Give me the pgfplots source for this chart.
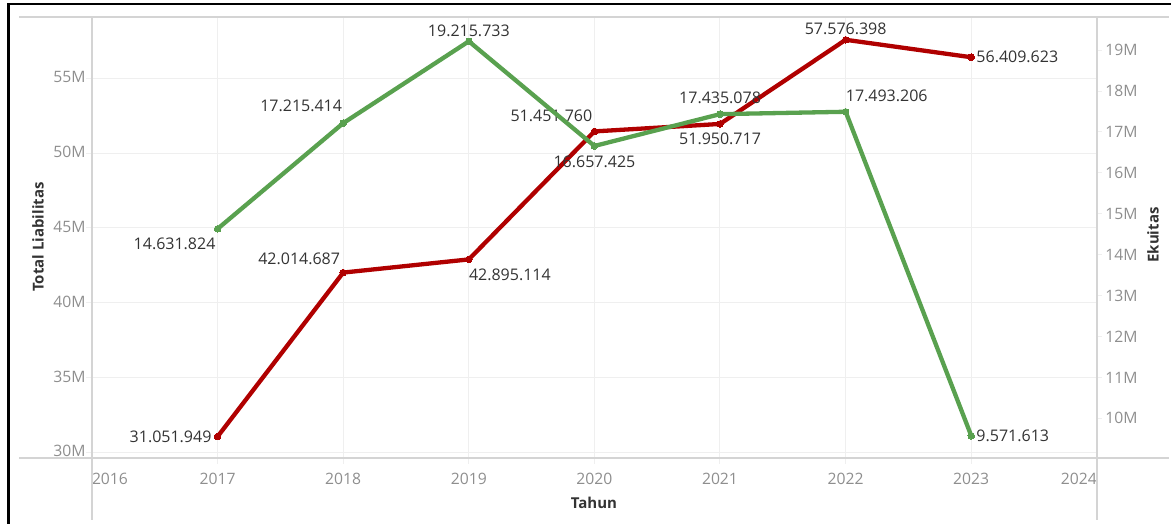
\documentclass[border=0pt]{standalone}
\usepackage{fontspec}
\setmainfont{Open Sans}
\usepackage{pgfplots}
\pgfplotsset{compat=1.18}
\definecolor{liab}{HTML}{B00000}
\definecolor{eku}{HTML}{59A14F}
\definecolor{gridc}{HTML}{EFEFEF}
\definecolor{framec}{HTML}{D4D4D4}
\definecolor{tickc}{HTML}{8E8E8E}
\definecolor{labc}{HTML}{333333}

% value label at a data point: x, y, text, anchor, xshift, yshift
\newcommand\lab[6]{%
  \addplot[draw=none, no marks, nodes near coords, point meta=explicit symbolic,
    every node near coord/.append style={anchor=#4, xshift=#5pt, yshift=#6pt,
      inner sep=0pt, font=\fontsize{16}{19}\selectfont, text=labc}]
    coordinates {(#1,#2) [#3]};}

\pgfplotsset{
  base/.style={
    at={(92pt,66pt)}, anchor=south west,
    scale only axis, width=1005pt, height=441pt,
    xmin=2016, xmax=2024,
    axis line style={draw=none},
    tick align=outside,
    tick style={gridc, line width=1pt},
    ticklabel style={font=\fontsize{15.7}{18}\selectfont, text=tickc},
    clip=false,
  },
}

\begin{document}
\begin{tikzpicture}[x=1pt,y=1pt]
\begin{axis}[base,
  ymin=29620000, ymax=59100000,
  xtick={2016,...,2024},
  xticklabels={\rlap{2016},2017,2018,2019,2020,2021,2022,2023,\llap{2024}},
  xticklabel style={yshift=-6pt},
  ytick={30000000,35000000,40000000,45000000,50000000,55000000},
  yticklabels={30M,35M,40M,45M,50M,55M},
  yticklabel style={xshift=3pt, yshift=1pt},
  scaled y ticks=false,
  xmajorgrids, ymajorgrids, major grid style={gridc, line width=1pt},
  xtick pos=bottom, ytick pos=left, major tick length=6pt,
]
\addplot[liab, line width=4.3pt, line join=round, mark=*, mark size=3.3pt,
  mark options={fill=liab, draw=liab, line width=0pt}]
  coordinates {(2017,31051949) (2018,42014687) (2019,42895114) (2020,51451760)
               (2021,51950717) (2022,57576398) (2023,56409623)};
\lab{2017}{31051949}{31.051.949}{east}{-6}{0}
\lab{2018}{42014687}{42.014.687}{south east}{-3}{8}
\lab{2019}{42895114}{42.895.114}{north west}{0}{-9}
\lab{2020}{51451760}{51.451.760}{south east}{-2}{9}
\lab{2021}{51950717}{51.950.717}{north}{0}{-9}
\lab{2022}{57576398}{57.576.398}{south}{0}{5}
\lab{2023}{56409623}{56.409.623}{west}{5}{0}
\end{axis}
\begin{axis}[base,
  ymin=9030000, ymax=19810000,
  axis x line=none, axis y line*=right,
  ytick={10000000,11000000,12000000,13000000,14000000,15000000,16000000,17000000,18000000,19000000},
  yticklabels={10M,11M,12M,13M,14M,15M,16M,17M,18M,19M},
  scaled y ticks=false,
  major tick length=5pt,
]
\addplot[eku, line width=4.3pt, line join=round, mark=*, mark size=3.3pt,
  mark options={fill=eku, draw=eku, line width=0pt}]
  coordinates {(2017,14631824) (2018,17215414) (2019,19215733) (2020,16657425)
               (2021,17435078) (2022,17493206) (2023,9571613)};
\lab{2017}{14631824}{14.631.824}{north east}{-2}{-9}
\lab{2018}{17215414}{17.215.414}{south east}{-1}{11}
\lab{2019}{19215733}{19.215.733}{south}{0}{4}
\lab{2020}{16657425}{16.657.425}{north}{0}{-10}
\lab{2021}{17435078}{17.435.078}{south}{0}{10}
\lab{2022}{17493206}{17.493.206}{south west}{0}{10}
\lab{2023}{9571613}{9.571.613}{west}{5}{0}
\end{axis}
% frame lines
\draw[framec, line width=1.2pt] (19,507) -- (1169,507);
\draw[framec, line width=1.2pt] (19,66) -- (1169,66);
\draw[framec, line width=1.2pt] (92,507) -- (92,4);
\draw[framec, line width=1.2pt] (1097,507) -- (1097,4);
% screenshot border
\draw[black, line width=2.4pt] (8.5,0) -- (8.5,520) -- (1171,520);
% titles
\node[rotate=90, text=labc, font=\bfseries\fontsize{15}{18}\selectfont] at (38,287) {Total Liabilitas};
\node[rotate=90, text=labc, font=\bfseries\fontsize{15}{18}\selectfont] at (1153,289) {Ekuitas};
\node[text=labc, font=\bfseries\fontsize{15}{18}\selectfont] at (594,21) {Tahun};
\pgfresetboundingbox
\path (0,0) rectangle (1171,524);
\end{tikzpicture}
\end{document}
